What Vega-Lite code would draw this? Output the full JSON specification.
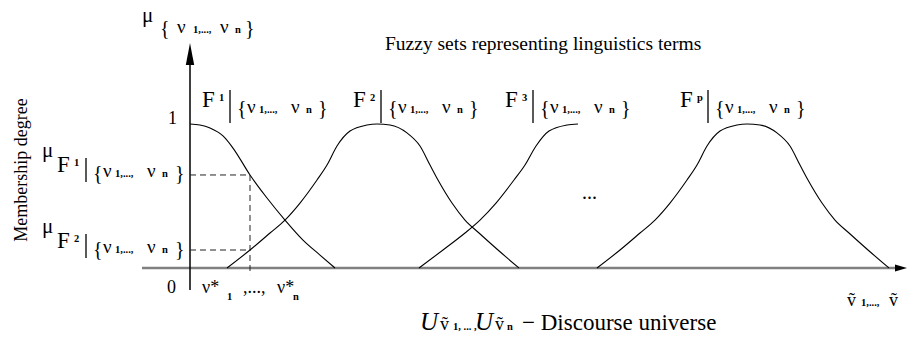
{
  "$schema": "https://vega.github.io/schema/vega-lite/v6.json",
  "width": 907,
  "height": 337,
  "padding": 0,
  "autosize": {"type": "fit", "contains": "padding"},
  "background": "white",
  "config": {"view": {"stroke": null}, "text": {"font": "Liberation Serif", "baseline": "alphabetic", "align": "left", "color": "black"}},
  "datasets": {
    "xaxis": [{"x": -4.8, "x2": 71.0, "y": 0}],
    "yaxis": [{"x": 0, "y": -0.153, "y2": 1.45}],
    "xarrow": [{"x": 71.1, "y": 0}],
    "yarrow": [{"x": 0, "y": 1.486}],
    "dashes": [
      {"x": 0, "x2": 6.0, "y": 0.646, "y2": 0.646},
      {"x": 0, "x2": 6.0, "y": 0.125, "y2": 0.125},
      {"x": 6.0, "x2": 6.0, "y": 0.646, "y2": -0.049}
    ],
    "curves": [
      {"set": "F1", "x": 0, "y": 1.0}, {"set": "F1", "x": 1.0, "y": 0.993}, {"set": "F1", "x": 2.0, "y": 0.972}, {"set": "F1", "x": 3.3, "y": 0.917}, {"set": "F1", "x": 4.3, "y": 0.833}, {"set": "F1", "x": 6.0, "y": 0.646}, {"set": "F1", "x": 7.7, "y": 0.486}, {"set": "F1", "x": 9.5, "y": 0.333}, {"set": "F1", "x": 11.3, "y": 0.194}, {"set": "F1", "x": 13.0, "y": 0.09}, {"set": "F1", "x": 14.5, "y": 0},
      {"set": "F2", "x": 3.7, "y": 0}, {"set": "F2", "x": 6.0, "y": 0.125}, {"set": "F2", "x": 8.0, "y": 0.243}, {"set": "F2", "x": 9.5, "y": 0.333}, {"set": "F2", "x": 11.0, "y": 0.451}, {"set": "F2", "x": 12.7, "y": 0.611}, {"set": "F2", "x": 13.7, "y": 0.715}, {"set": "F2", "x": 14.7, "y": 0.847}, {"set": "F2", "x": 16.0, "y": 0.951}, {"set": "F2", "x": 17.7, "y": 0.993}, {"set": "F2", "x": 18.7, "y": 1.0}, {"set": "F2", "x": 20.0, "y": 0.993}, {"set": "F2", "x": 21.7, "y": 0.938}, {"set": "F2", "x": 23.0, "y": 0.847}, {"set": "F2", "x": 24.0, "y": 0.715}, {"set": "F2", "x": 24.8, "y": 0.611}, {"set": "F2", "x": 26.2, "y": 0.451}, {"set": "F2", "x": 27.5, "y": 0.333}, {"set": "F2", "x": 28.9, "y": 0.243}, {"set": "F2", "x": 30.8, "y": 0.125}, {"set": "F2", "x": 32.9, "y": 0},
      {"set": "F3", "x": 22.9, "y": 0}, {"set": "F3", "x": 25.3, "y": 0.125}, {"set": "F3", "x": 27.5, "y": 0.243}, {"set": "F3", "x": 29.0, "y": 0.333}, {"set": "F3", "x": 30.6, "y": 0.451}, {"set": "F3", "x": 32.4, "y": 0.611}, {"set": "F3", "x": 33.5, "y": 0.715}, {"set": "F3", "x": 34.6, "y": 0.847}, {"set": "F3", "x": 35.9, "y": 0.951}, {"set": "F3", "x": 37.7, "y": 0.993}, {"set": "F3", "x": 38.8, "y": 1.0},
      {"set": "Fp", "x": 40.7, "y": 0}, {"set": "Fp", "x": 43.0, "y": 0.125}, {"set": "Fp", "x": 45.0, "y": 0.243}, {"set": "Fp", "x": 46.5, "y": 0.333}, {"set": "Fp", "x": 48.0, "y": 0.451}, {"set": "Fp", "x": 49.7, "y": 0.611}, {"set": "Fp", "x": 50.7, "y": 0.715}, {"set": "Fp", "x": 51.7, "y": 0.847}, {"set": "Fp", "x": 53.0, "y": 0.951}, {"set": "Fp", "x": 54.7, "y": 0.993}, {"set": "Fp", "x": 55.7, "y": 1.0}, {"set": "Fp", "x": 57.0, "y": 0.993}, {"set": "Fp", "x": 58.7, "y": 0.938}, {"set": "Fp", "x": 60.0, "y": 0.847}, {"set": "Fp", "x": 61.0, "y": 0.715}, {"set": "Fp", "x": 61.8, "y": 0.611}, {"set": "Fp", "x": 63.2, "y": 0.451}, {"set": "Fp", "x": 64.5, "y": 0.333}, {"set": "Fp", "x": 65.9, "y": 0.243}, {"set": "Fp", "x": 67.8, "y": 0.125}, {"set": "Fp", "x": 69.9, "y": 0}
    ],
    "bars": [
      {"x": 4.0, "y": 1.236, "y2": 1.007}, {"x": 19.1, "y": 1.236, "y2": 1.007}, {"x": 34.3, "y": 1.236, "y2": 1.007}, {"x": 51.8, "y": 1.236, "y2": 1.007},
      {"x": -10.4, "y": 0.764, "y2": 0.597}, {"x": -10.4, "y": 0.236, "y2": 0.069}
    ],
    "textF": [
      {"t": "F", "x": 1.2, "y": 1.118}, {"t": "F", "x": 16.3, "y": 1.118}, {"t": "F", "x": 31.5, "y": 1.118}, {"t": "F", "x": 49.0, "y": 1.118},
      {"t": "F", "x": -13.3, "y": 0.667}, {"t": "F", "x": -13.3, "y": 0.139}
    ],
    "textMu": [
      {"t": "μ", "x": -4.8, "y": 1.708}, {"t": "μ", "x": -14.8, "y": 0.771}, {"t": "μ", "x": -14.8, "y": 0.243}
    ],
    "textSub": [
      {"t": "1", "x": 2.9, "y": 1.16}, {"t": "2", "x": 18.0, "y": 1.16}, {"t": "3", "x": 33.2, "y": 1.16}, {"t": "p", "x": 50.7, "y": 1.16},
      {"t": "1,...,", "x": 6.9, "y": 1.076}, {"t": "n", "x": 11.6, "y": 1.076},
      {"t": "1,...,", "x": 22.0, "y": 1.076}, {"t": "n", "x": 26.7, "y": 1.076},
      {"t": "1,...,", "x": 37.2, "y": 1.076}, {"t": "n", "x": 41.9, "y": 1.076},
      {"t": "1,...,", "x": 54.7, "y": 1.076}, {"t": "n", "x": 59.4, "y": 1.076},
      {"t": "1", "x": -11.6, "y": 0.708}, {"t": "1,...,", "x": -7.5, "y": 0.632}, {"t": "n", "x": -2.8, "y": 0.632},
      {"t": "2", "x": -11.6, "y": 0.181}, {"t": "1,...,", "x": -7.5, "y": 0.104}, {"t": "n", "x": -2.8, "y": 0.104},
      {"t": "1,...,", "x": 0.3, "y": 1.632}, {"t": "n", "x": 4.5, "y": 1.632},
      {"t": "1", "x": 3.7, "y": -0.222}, {"t": "n", "x": 10.3, "y": -0.222},
      {"t": "1,...,", "x": 67.1, "y": -0.264},
      {"t": "1, ... ,", "x": 26.3, "y": -0.431}, {"t": "n", "x": 31.7, "y": -0.431}
    ],
    "textNu": [
      {"t": "ν", "x": 5.7, "y": 1.076}, {"t": "ν", "x": 10.1, "y": 1.076},
      {"t": "ν", "x": 20.8, "y": 1.076}, {"t": "ν", "x": 25.2, "y": 1.076},
      {"t": "ν", "x": 36.0, "y": 1.076}, {"t": "ν", "x": 40.4, "y": 1.076},
      {"t": "ν", "x": 53.5, "y": 1.076}, {"t": "ν", "x": 57.9, "y": 1.076},
      {"t": "ν", "x": -8.7, "y": 0.632}, {"t": "ν", "x": -4.3, "y": 0.632},
      {"t": "ν", "x": -8.7, "y": 0.104}, {"t": "ν", "x": -4.3, "y": 0.104},
      {"t": "ν", "x": -1.3, "y": 1.632}, {"t": "ν", "x": 3.0, "y": 1.632}
    ],
    "textMed": [
      {"t": "ν*", "x": 1.2, "y": -0.174}, {"t": ",...,", "x": 5.3, "y": -0.174}, {"t": "ν*", "x": 8.7, "y": -0.174},
      {"t": "0", "x": -2.3, "y": -0.174}, {"t": "1", "x": -2.2, "y": 1.0},
      {"t": "ṽ", "x": 65.7, "y": -0.264}, {"t": "ṽ", "x": 69.9, "y": -0.264},
      {"t": "ṽ", "x": 25.0, "y": -0.431}, {"t": "ṽ", "x": 30.5, "y": -0.431}
    ],
    "textBrace": [
      {"t": "{", "x": 4.7, "y": 1.0625}, {"t": "}", "x": 12.8, "y": 1.0625},
      {"t": "{", "x": 19.8, "y": 1.0625}, {"t": "}", "x": 27.9, "y": 1.0625},
      {"t": "{", "x": 35.0, "y": 1.0625}, {"t": "}", "x": 43.1, "y": 1.0625},
      {"t": "{", "x": 52.5, "y": 1.0625}, {"t": "}", "x": 60.6, "y": 1.0625},
      {"t": "{", "x": -9.7, "y": 0.611}, {"t": "}", "x": -1.5, "y": 0.611},
      {"t": "{", "x": -9.7, "y": 0.083}, {"t": "}", "x": -1.5, "y": 0.083},
      {"t": "{", "x": -3.0, "y": 1.618}, {"t": "}", "x": 5.5, "y": 1.618}
    ],
    "textTitle": [{"t": "Fuzzy sets representing linguistics terms", "x": 19.5, "y": 1.514}],
    "textDots": [{"t": "...", "x": 39.2, "y": 0.479}],
    "textDiscourse": [{"t": "− Discourse universe", "x": 33.2, "y": -0.431}],
    "textU": [{"t": "U", "x": 23.0, "y": -0.431}, {"t": "U", "x": 28.5, "y": -0.431}],
    "textYTitle": [{"t": "Membership degree", "x": -16.3, "y": 0.681}]
  },
  "encoding": {
    "x": {"field": "x", "type": "quantitative", "scale": {"domain": [-19, 71.7], "nice": false, "zero": false}, "axis": null},
    "y": {"field": "y", "type": "quantitative", "scale": {"domain": [-0.479, 1.861], "nice": false, "zero": false}, "axis": null}
  },
  "layer": [
    {"data": {"name": "xaxis"}, "mark": {"type": "rule", "stroke": "#808080", "strokeWidth": 2.5}, "encoding": {"x2": {"field": "x2"}}},
    {"data": {"name": "yaxis"}, "mark": {"type": "rule", "stroke": "black", "strokeWidth": 1.5}, "encoding": {"y2": {"field": "y2"}}},
    {"data": {"name": "dashes"}, "mark": {"type": "rule", "stroke": "#222222", "strokeWidth": 1, "strokeDash": [6, 4]}, "encoding": {"x2": {"field": "x2"}, "y2": {"field": "y2"}}},
    {"data": {"name": "curves"}, "mark": {"type": "line", "stroke": "black", "strokeWidth": 1.1, "interpolate": "monotone"}, "encoding": {"detail": {"field": "set"}}},
    {"data": {"name": "bars"}, "mark": {"type": "rule", "stroke": "black", "strokeWidth": 1.3}, "encoding": {"y2": {"field": "y2"}}},
    {"data": {"name": "yarrow"}, "mark": {"type": "point", "shape": "M0,-1L0.38,1L-0.38,1Z", "filled": true, "fill": "black", "strokeWidth": 0, "size": 484, "opacity": 1}, "encoding": {}},
    {"data": {"name": "xarrow"}, "mark": {"type": "point", "shape": "M1,0L-1,0.6L-1,-0.6Z", "filled": true, "fill": "black", "strokeWidth": 0, "size": 144, "opacity": 1}, "encoding": {}},
    {"data": {"name": "textF"}, "mark": {"type": "text", "font": "Liberation Serif", "fontSize": 23}, "encoding": {"text": {"field": "t"}}},
    {"data": {"name": "textMu"}, "mark": {"type": "text", "font": "Liberation Serif", "fontSize": 21}, "encoding": {"text": {"field": "t"}}},
    {"data": {"name": "textSub"}, "mark": {"type": "text", "font": "Liberation Serif", "fontSize": 10.5, "fontWeight": "bold"}, "encoding": {"text": {"field": "t"}}},
    {"data": {"name": "textNu"}, "mark": {"type": "text", "font": "Liberation Serif", "fontSize": 19}, "encoding": {"text": {"field": "t"}}},
    {"data": {"name": "textMed"}, "mark": {"type": "text", "font": "Liberation Serif", "fontSize": 18}, "encoding": {"text": {"field": "t"}}},
    {"data": {"name": "textBrace"}, "mark": {"type": "text", "font": "Liberation Serif", "fontSize": 20}, "encoding": {"text": {"field": "t"}}},
    {"data": {"name": "textTitle"}, "mark": {"type": "text", "font": "Liberation Serif", "fontSize": 19.5}, "encoding": {"text": {"field": "t"}}},
    {"data": {"name": "textDots"}, "mark": {"type": "text", "font": "Liberation Serif", "fontSize": 20}, "encoding": {"text": {"field": "t"}}},
    {"data": {"name": "textDiscourse"}, "mark": {"type": "text", "font": "Liberation Serif", "fontSize": 23}, "encoding": {"text": {"field": "t"}}},
    {"data": {"name": "textU"}, "mark": {"type": "text", "font": "Liberation Serif", "fontSize": 25, "fontStyle": "italic"}, "encoding": {"text": {"field": "t"}}},
    {"data": {"name": "textYTitle"}, "mark": {"type": "text", "font": "Liberation Serif", "fontSize": 18, "angle": 270, "align": "center"}, "encoding": {"text": {"field": "t"}}}
  ]
}
